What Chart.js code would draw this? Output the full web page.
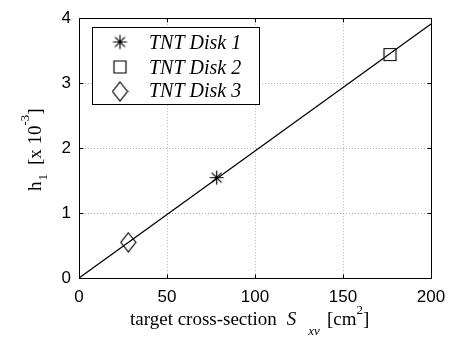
<!DOCTYPE html>
<html>
<head>
<meta charset="utf-8">
<script src="https://cdn.jsdelivr.net/npm/chart.js@4.4.1/dist/chart.umd.min.js"></script>
<style>
  html, body { margin: 0; padding: 0; background: #fff; }
  #wrap { width: 458px; height: 339px; }
</style>
</head>
<body>
<div id="wrap"><canvas id="c" width="458" height="339"></canvas></div>
<script>
// Measured disks: target cross-section S_xv [cm^2] vs. h1 [x 10^-3]
const diskLabels = ['TNT Disk 1', 'TNT Disk 2', 'TNT Disk 3'];
const crossSection = [78.2, 176.7, 28.0];
const h1Values = [1.545, 3.44, 0.55];

// Linear fit through the origin
const fitX = [0, 200];
const fitY = [0, 3.91];

// Axis ticks
const xTicks = [0, 50, 100, 150, 200];
const yTicks = [0, 1, 2, 3, 4];

const SERIF = '"Liberation Serif", "Times New Roman", serif';
const SANS = '"Liberation Sans", Arial, sans-serif';

// Marker glyphs (MATLAB-like asterisk, square, diamond)
function makeMarker(kind) {
  const cv = document.createElement('canvas');
  let w = 17, h = 17;
  if (kind === 'diamond') { w = 17; h = 21; }
  cv.width = w; cv.height = h;
  const g = cv.getContext('2d');
  g.strokeStyle = '#000';
  g.lineWidth = 1.2;
  const cx = w / 2, cy = h / 2;
  g.beginPath();
  if (kind === 'star') {
    const r = 7;
    for (let i = 0; i < 4; i++) {
      const a = i * Math.PI / 4;
      g.moveTo(cx - r * Math.cos(a), cy - r * Math.sin(a));
      g.lineTo(cx + r * Math.cos(a), cy + r * Math.sin(a));
    }
  } else if (kind === 'square') {
    g.rect(cx - 6, cy - 6, 12, 12);
  } else {
    g.moveTo(cx, cy - 9.5);
    g.lineTo(cx + 7.5, cy);
    g.lineTo(cx, cy + 9.5);
    g.lineTo(cx - 7.5, cy);
    g.closePath();
  }
  g.stroke();
  return cv;
}
const markers = [makeMarker('star'), makeMarker('square'), makeMarker('diamond')];

// Axes box, inward ticks and dotted grid
const framePlugin = {
  id: 'frame',
  beforeDatasetsDraw(chart) {
    const { ctx, chartArea: a, scales: { x, y } } = chart;
    ctx.save();
    ctx.strokeStyle = '#b4b4b4';
    ctx.lineWidth = 1;
    ctx.setLineDash([1, 2]);
    xTicks.slice(1, -1).forEach(v => {
      const px = Math.round(x.getPixelForValue(v)) + 0.5;
      ctx.beginPath(); ctx.moveTo(px, a.top); ctx.lineTo(px, a.bottom); ctx.stroke();
    });
    yTicks.slice(1, -1).forEach(v => {
      const py = Math.round(y.getPixelForValue(v)) + 0.5;
      ctx.beginPath(); ctx.moveTo(a.left, py); ctx.lineTo(a.right, py); ctx.stroke();
    });
    ctx.restore();
  },
  afterDatasetsDraw(chart) {
    const { ctx, chartArea: a, scales: { x, y } } = chart;
    ctx.save();
    ctx.strokeStyle = '#000';
    ctx.lineWidth = 1;
    const L = Math.round(a.left) + 0.5, R = Math.round(a.right) + 0.5;
    const T = Math.round(a.top) + 0.5, B = Math.round(a.bottom) + 0.5;
    ctx.strokeRect(L, T, R - L, B - T);
    const tl = 4;
    ctx.beginPath();
    xTicks.forEach(v => {
      const px = Math.round(x.getPixelForValue(v)) + 0.5;
      ctx.moveTo(px, B); ctx.lineTo(px, B - tl);
      ctx.moveTo(px, T); ctx.lineTo(px, T + tl);
    });
    yTicks.forEach(v => {
      const py = Math.round(y.getPixelForValue(v)) + 0.5;
      ctx.moveTo(L, py); ctx.lineTo(L + tl, py);
      ctx.moveTo(R, py); ctx.lineTo(R - tl, py);
    });
    ctx.stroke();
    ctx.restore();
  }
};

// Draws text pieces {t, style, size, dx, dy}; dx adds extra space before a piece
function drawRuns(ctx, runs, x, y) {
  let cx = x;
  ctx.textBaseline = 'alphabetic';
  ctx.textAlign = 'left';
  runs.forEach(r => {
    ctx.font = r.style + ' ' + r.size + 'px ' + SERIF;
    cx += r.dx || 0;
    ctx.fillText(r.t, cx, y + (r.dy || 0));
    cx += ctx.measureText(r.t).width;
  });
}

// Axis titles and the boxed legend
const annotationPlugin = {
  id: 'annot',
  afterDraw(chart) {
    const { ctx, chartArea: a } = chart;
    ctx.save();
    ctx.fillStyle = '#000';
    const fs = 19;
    const midX = (a.left + a.right) / 2;
    const midY = (a.top + a.bottom) / 2;
    // x-axis title
    drawRuns(ctx, [
      { t: 'target cross-section', style: 'normal', size: fs },
      { t: 'S', style: 'italic', size: fs, dx: 10 },
      { t: 'xv', style: 'italic', size: 13, dx: 12, dy: 10 },
      { t: '[cm', style: 'normal', size: fs, dx: 7 },
      { t: '2', style: 'normal', size: 13, dy: -11 },
      { t: ']', style: 'normal', size: fs }
    ], midX - 125, 325);
    // y-axis title (rotated)
    ctx.save();
    ctx.translate(41, midY + 43);
    ctx.rotate(-Math.PI / 2);
    drawRuns(ctx, [
      { t: 'h', style: 'normal', size: fs },
      { t: '1', style: 'normal', size: 13, dx: 1, dy: 6 },
      { t: '[x 10', style: 'normal', size: fs, dx: 9 },
      { t: '-3', style: 'normal', size: 13, dy: -12 },
      { t: ']', style: 'normal', size: fs }
    ], 0, 0);
    ctx.restore();

    // legend
    const bx = 92.5, by = 27.5, bw = 167, bh = 77;
    ctx.fillStyle = '#fff';
    ctx.fillRect(bx, by, bw, bh);
    ctx.strokeStyle = '#000';
    ctx.lineWidth = 1;
    ctx.strokeRect(bx, by, bw, bh);
    const rows = [42, 67, 91.5];
    const baselines = [48.5, 73.5, 97];
    ctx.fillStyle = '#000';
    ctx.font = 'italic 20px ' + SERIF;
    ctx.textBaseline = 'alphabetic';
    ctx.textAlign = 'left';
    diskLabels.forEach((lbl, i) => {
      const m = markers[i];
      ctx.drawImage(m, 120 - m.width / 2, rows[i] - m.height / 2);
      ctx.fillText(lbl, 149, baselines[i]);
    });
    ctx.restore();
  }
};

const datasets = [
  {
    label: 'fit',
    data: fitX.map((v, i) => ({ x: v, y: fitY[i] })),
    showLine: true,
    borderColor: '#000',
    borderWidth: 1.3,
    pointRadius: 0,
    fill: false
  }
].concat(diskLabels.map((lbl, i) => ({
  label: lbl,
  data: [{ x: crossSection[i], y: h1Values[i] }],
  pointStyle: markers[i],
  pointRadius: 8,
  showLine: false
})));

new Chart(document.getElementById('c'), {
  type: 'scatter',
  data: { datasets },
  options: {
    responsive: false,
    animation: false,
    events: [],
    layout: { padding: { left: 0, right: 27, top: 14, bottom: 0 } },
    plugins: { legend: { display: false }, tooltip: { enabled: false } },
    scales: {
      x: {
        type: 'linear', min: 0, max: 200,
        grid: { display: false, drawTicks: false },
        border: { display: false },
        afterBuildTicks(s) { s.ticks = xTicks.map(v => ({ value: v })); },
        ticks: { color: '#000', font: { family: SANS, size: 17 }, padding: 9, maxRotation: 0 },
        afterFit(s) { s.height = 61; }
      },
      y: {
        type: 'linear', min: 0, max: 4,
        grid: { display: false, drawTicks: false },
        border: { display: false },
        afterBuildTicks(s) { s.ticks = yTicks.map(v => ({ value: v })); },
        ticks: { color: '#000', font: { family: SANS, size: 17 }, padding: 8 },
        afterFit(s) { s.width = 79; }
      }
    }
  },
  plugins: [framePlugin, annotationPlugin]
});
</script>
</body>
</html>
